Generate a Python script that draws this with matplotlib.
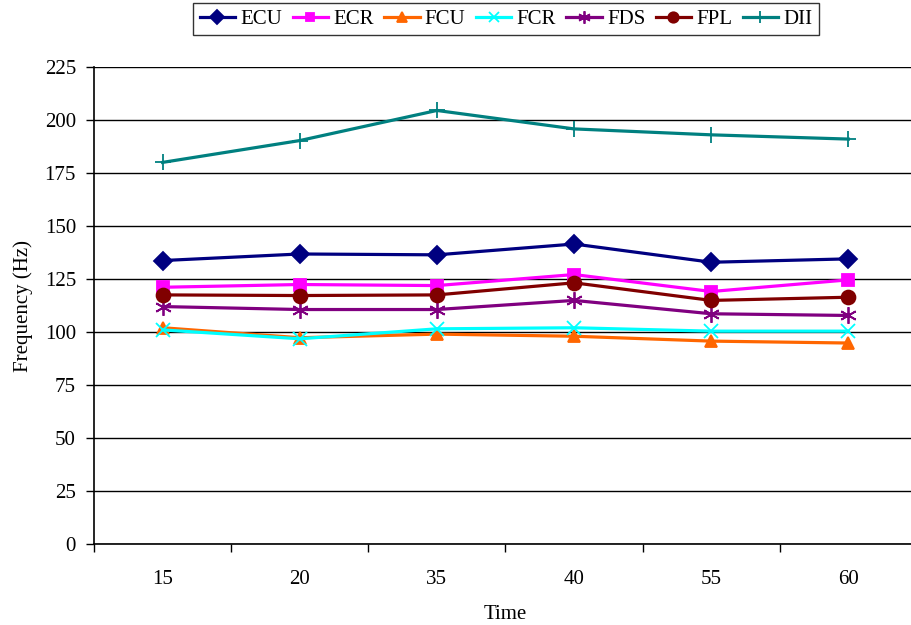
import matplotlib.pyplot as plt
import numpy as np

plt.rcdefaults()
plt.rcParams['font.family'] = ['Liberation Serif', 'DejaVu Serif']
plt.rcParams['font.size'] = 15

# data
times = ["15", "20", "35", "40", "55", "60"]
ecu = [133.7, 136.8, 136.4, 141.5, 132.9, 134.5]
ecr = [121.1, 122.4, 121.9, 127.1, 119.1, 124.6]
fcu = [102.0, 97.3, 99.0, 98.0, 95.7, 94.8]
fcr = [101.0, 96.8, 101.5, 102.0, 100.4, 100.4]
fds = [112.0, 110.6, 110.6, 114.9, 108.6, 107.8]
fpl = [117.5, 117.2, 117.5, 123.2, 114.9, 116.4]
dii = [180.0, 190.3, 204.5, 195.8, 193.0, 191.0]

series = [
  ("ECU", ecu, "#000080", "D", 9),
  ("ECR", ecr, "#FF00FF", "s", 8),
  ("FCU", fcu, "#FF6600", "^", 9),
  ("FCR", fcr, "#00FFFF", "x", 10),
  ("FDS", fds, "#800080", (6, 2, 0), 12),
  ("FPL", fpl, "#800000", "o", 10),
  ("DII", dii, "#008080", "+", 12),
]

fig = plt.figure(figsize=(9.11, 6.25), dpi=100)
ax = fig.add_axes([94/911, 81/625, 823/911, 477/625])

x = np.arange(len(times))
for name, vals, col, mk, ms in series:
  ax.plot(x, vals, color=col, marker=mk, markersize=ms, linewidth=2.3,
    markeredgewidth=1.3, label=name)

ax.set_xlim(-0.5, len(times) - 0.5)
ax.set_ylim(0, 225)
ax.set_yticks(np.arange(0, 226, 25))
ax.set_xticks(x)
ax.set_xticklabels(times)
ax.set_xticks(np.arange(-0.5, len(times), 1), minor=True)
ax.tick_params(axis="x", which="major", length=0, pad=19)
ax.tick_params(axis="x", which="minor", length=6, direction="out", width=1)
ax.tick_params(axis="y", length=6, direction="out", width=1, pad=7)

ax.yaxis.grid(True, color="black", linewidth=1)
ax.set_axisbelow(True)
for s in ["top", "right"]:
  ax.spines[s].set_visible(False)
ax.spines["left"].set_linewidth(1.2)
ax.spines["bottom"].set_linewidth(1.2)

ax.set_xlabel("Time", labelpad=11)
ax.set_ylabel("Frequency (Hz)", labelpad=8)

leg = fig.legend(loc="upper center", bbox_to_anchor=(506/911, 1 - 3/625), ncol=7,
  frameon=True, fancybox=False, edgecolor="black", handlelength=1.7,
  handletextpad=0.25, columnspacing=0.5, borderpad=0.3, borderaxespad=0,
  markerscale=0.75, fontsize=15)
leg.get_frame().set_linewidth(1)

fig.savefig("out.png", dpi=100)
